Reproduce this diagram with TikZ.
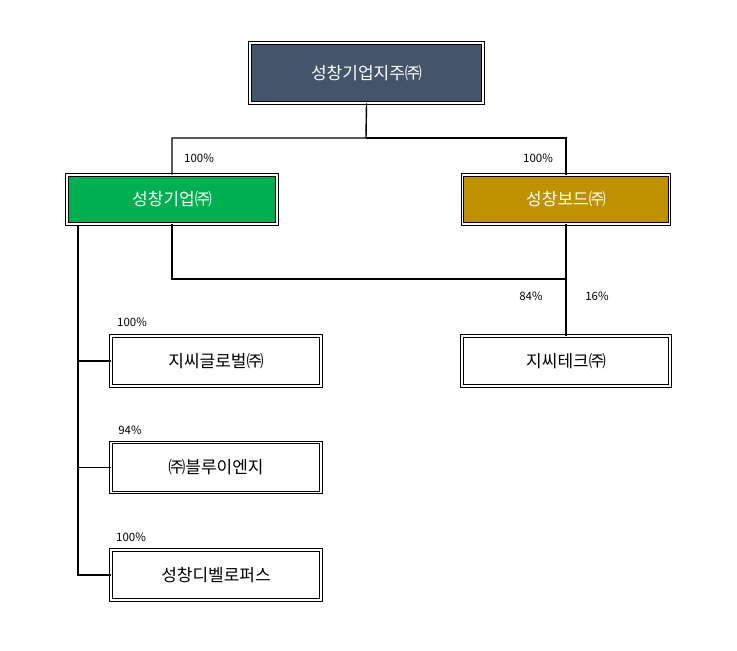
\documentclass[tikz,border=0pt]{standalone}
\usepackage{fontspec}
\setmainfont{Noto Sans CJK KR}
\begin{document}
\begin{tikzpicture}[x=1pt,y=-1pt,
  box/.style={draw=black,double=white,double distance=1.5pt,line width=0.8pt,minimum width=#1,inner sep=0pt,font=\fontsize{17}{20}\selectfont},
  conn/.style={line width=1.4pt},
  pct/.style={font=\fontsize{11.5}{14}\selectfont}]
\useasboundingbox (0,0) rectangle (737,651);
\node[box=233pt,minimum height=60pt,fill={rgb,255:red,68;green,84;blue,106},text=white] (top) at (366.5,73) {성창기업지주㈜};
\node[box=210pt,minimum height=49pt,fill={rgb,255:red,0;green,176;blue,80},text=white] (ge) at (172,199.5) {성창기업㈜};
\node[box=207pt,minimum height=49pt,fill={rgb,255:red,191;green,144;blue,0},text=white] (gb) at (566,199.5) {성창보드㈜};
\node[box=210pt,minimum height=50pt,fill=white] (g1) at (216,361) {지씨글로벌㈜};
\node[box=210pt,minimum height=50pt,fill=white] (g2) at (216,467.5) {㈜블루이엔지};
\node[box=210pt,minimum height=50pt,fill=white] (g3) at (216,575) {성창디벨로퍼스};
\node[box=208pt,minimum height=50pt,fill=white] (gt) at (566,361) {지씨테크㈜};
\coordinate (j1) at (366,138);
\coordinate (j2) at (566,279);
\coordinate (tr) at (78,225);
\draw[conn] (top.south) -- (j1) -| (ge.north);
\draw[conn] (j1) -| (gb.north);
\draw[conn] (ge.south) |- (j2);
\draw[conn] (gb.south) -- (gt.north);
\draw[conn] (tr) -- (78,575) -- (g3.west);
\draw[conn] (78,361) -- (g1.west);
\draw[conn] (78,467.5) -- (g2.west);
\node[pct] (p1) at (199,158) {100\%};
\node[pct] (p2) at (538,158) {100\%};
\node[pct] (p3) at (531,296) {84\%};
\node[pct] (p4) at (597,296) {16\%};
\node[pct] (p5) at (132,322) {100\%};
\node[pct] (p6) at (130,430) {94\%};
\node[pct] (p7) at (131,537) {100\%};
\end{tikzpicture}
\end{document}
